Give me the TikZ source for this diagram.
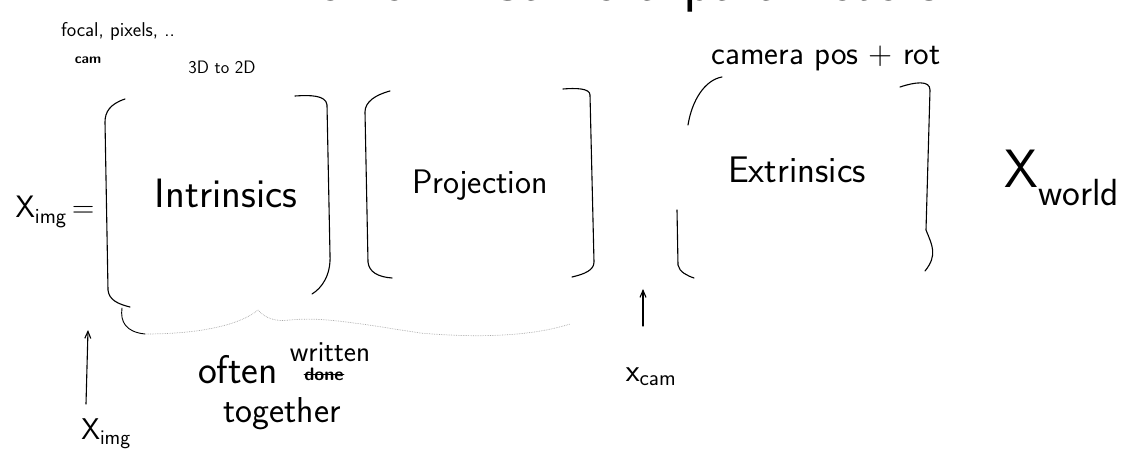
\documentclass[tikz,border=0pt]{standalone}
\usepackage{fontspec}
\setsansfont{Latin Modern Sans}
\usetikzlibrary{arrows.meta}
\newcommand{\fs}[1]{\fontsize{#1}{#1}\selectfont}
\begin{document}
\begin{tikzpicture}[x=1pt,y=-1pt,
  ink/.style={line width=1.1pt,line cap=round,line join=round,black},
  faint/.style={line width=0.7pt,gray!70,densely dotted},
  hand/.style={font=\sffamily,inner sep=0pt,anchor=center},
  upar/.style={ink,-{Straight Barb[length=7pt,width=6pt]}}]
\useasboundingbox (0,0) rectangle (1135,454);
\begin{scope}
\clip (0,0) rectangle (1135,454);
\node[hand,font=\sffamily\fs{60}] (title) at (610,-14) {Review: Camera parameters};
\end{scope}
% annotations
\node[hand,font=\sffamily\fs{20}] (focal) at (118,31) {focal, pixels, ..};
\node[hand,font=\sffamily\fs{14}] (cam) at (88,60) {\textbf{cam}};
\node[hand,font=\sffamily\fs{18}] (proj2d) at (222,67) {3D to 2D};
\node[hand,font=\sffamily\fs{33}] (camrot) at (826,58) {camera pos + rot};
% main labels
\node[hand,font=\sffamily\fs{31}] (ximgeq) at (55,212) {X$_{\mathsf{img}}$\,=};
\node[hand,font=\sffamily\fs{41}] (intr) at (226,193) {Intrinsics};
\node[hand,font=\sffamily\fs{34}] (proj) at (480,185) {Projection};
\node[hand,font=\sffamily\fs{37}] (extr) at (797,170) {Extrinsics};
\node[hand,font=\sffamily\fs{54}] (xworld) at (1062,178) {X$_{\mathsf{world}}$};
% brackets: intrinsics
\draw[ink] (125,99) .. controls (110,104) and (105,112) .. (105,122) -- (108,290) .. controls (109,300) and (118,304) .. (130,307);
\draw[ink] (295,96) .. controls (310,95) and (326,95) .. (327,105) -- (330,255) .. controls (331,275) and (322,288) .. (312,294);
% brackets: projection
\draw[ink] (390,91) .. controls (375,95) and (365,102) .. (365,112) -- (368,262) .. controls (369,272) and (378,277) .. (392,278);
\draw[ink] (563,89) .. controls (575,88) and (590,88) .. (590,95) -- (594,262) .. controls (594,270) and (585,274) .. (572,277);
% brackets: extrinsics
\draw[ink] (722,77) .. controls (705,80) and (692,100) .. (688,125);
\draw[ink] (677,210) -- (678,265) .. controls (679,272) and (688,276) .. (694,278);
\draw[ink] (900,87) .. controls (915,82) and (930,80) .. (930,90) -- (926,230) .. controls (932,245) and (938,255) .. (925,271);
% brace beneath
\draw[ink,line width=0.9pt] (122,308) .. controls (120,322) and (126,332) .. (145,334);
\draw[faint] (145,334) .. controls (200,334) and (240,325) .. (258,310) .. controls (265,318) and (275,322) .. (290,320) .. controls (320,317) and (350,322) .. (420,333) .. controls (500,340) and (545,332) .. (570,324);
% bottom labels
\node[hand,font=\sffamily\fs{30}] (ximg) at (106,434) {X$_{\mathsf{img}}$};
\node[hand,font=\sffamily\fs{32}] (xcam) at (651,377) {x$_{\mathsf{cam}}$};
\coordinate (ximgtip) at (88,330);
\coordinate (xcamtip) at (643,289);
\draw[upar] (86,404) -- (ximgtip);
\draw[upar] (643,326) -- (xcamtip);
\node[hand,font=\sffamily\fs{40}] (often) at (238,370) {often};
\node[hand,font=\sffamily\fs{29}] (written) at (330,352) {written};
\node[hand,font=\sffamily\fs{18}] (done) at (324,374) {\bfseries done};
\draw[ink,line width=0.9pt] (done.west) -- (done.east);
\node[hand,font=\sffamily\fs{36}] (together) at (282,414) {together};
\end{tikzpicture}
\end{document}
